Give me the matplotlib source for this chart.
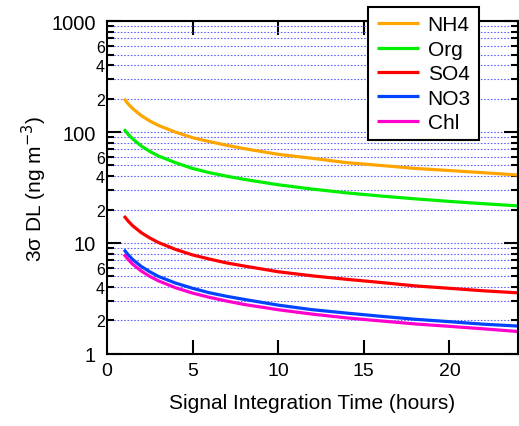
import math
import matplotlib
matplotlib.use("Agg")
import matplotlib.pyplot as plt
from matplotlib.ticker import FixedLocator, FuncFormatter

plt.rcParams['font.family'] = ['Liberation Sans', 'DejaVu Sans']

# values (ng m-3 vs hours)
hours = [1, 1.25, 1.5, 2, 2.5, 3, 4, 5, 6, 7, 8, 10, 12, 14, 16, 18, 20, 22, 24]
nh4 = [200, 179, 163, 141, 126, 115, 100, 89, 82, 76, 71, 63, 58, 53, 50, 47, 45, 43, 41]
org = [106, 95, 87, 75, 67, 61, 53, 47, 43, 40, 37.5, 33.5, 30.6, 28.3, 26.5, 25, 23.7, 22.6, 21.6]
so4 = [17.5, 15.7, 14.3, 12.4, 11.1, 10.1, 8.75, 7.8, 7.15, 6.6, 6.2, 5.5, 5.05, 4.7, 4.4, 4.1, 3.9, 3.7, 3.55]
no3 = [8.7, 7.8, 7.1, 6.15, 5.5, 5.0, 4.35, 3.9, 3.55, 3.3, 3.1, 2.75, 2.5, 2.33, 2.18, 2.05, 1.95, 1.85, 1.78]
chl = [7.9, 7.07, 6.45, 5.59, 5.0, 4.56, 3.95, 3.53, 3.23, 2.99, 2.79, 2.5, 2.28, 2.11, 1.98, 1.86, 1.77, 1.68, 1.59]

names = ['NH4', 'Org', 'SO4', 'NO3', 'Chl']
colors = ['#ffa500', '#00ee00', '#ff0000', '#0044ff', '#ff00cc']

fig = plt.figure(figsize=(5.19, 4.27), dpi=100)
ax = fig.add_axes([0.206, 0.169, 0.792, 0.779])

for ys, nm, c in zip([nh4, org, so4, no3, chl], names, colors):
    ax.plot(hours, ys, color=c, lw=2.3, label=nm, solid_capstyle='butt')

ax.set_yscale('log')
ax.set_ylim(1, 1000)
ax.set_xlim(0, 24)

major = [1, 10, 100, 1000]
minor = [m * d for d in [1, 10, 100] for m in range(2, 10)]
ax.yaxis.set_major_locator(FixedLocator(major))
ax.yaxis.set_minor_locator(FixedLocator(minor))
ax.yaxis.set_major_formatter(FuncFormatter(lambda v, p: '%d' % v))

def minor_fmt(v, p):
    m = round(v / 10 ** math.floor(math.log10(v) + 1e-9))
    return str(m) if m in (2, 4, 6) else ''

ax.yaxis.set_minor_formatter(FuncFormatter(minor_fmt))
ax.set_xticks([0, 5, 10, 15, 20])

ax.grid(True, which='both', axis='y', color='#6666ff', linestyle=(0, (1.5, 1.5)), lw=0.8)
ax.set_axisbelow(True)

for s in ax.spines.values():
    s.set_linewidth(1.5)

ax.tick_params(axis='y', which='major', direction='in', length=10, width=1.5,
               labelsize=14.5, pad=8, right=True)
ax.tick_params(axis='y', which='minor', direction='in', length=5, width=1.5,
               labelsize=11.5, pad=1.5, right=True)
ax.tick_params(axis='x', which='major', direction='in', length=10, width=1.5,
               labelsize=14, pad=6, top=True)
ax.xaxis.get_major_ticks()[0].tick1line.set_visible(False)
ax.xaxis.get_major_ticks()[0].tick2line.set_visible(False)

ax.set_xlabel('Signal Integration Time (hours)', fontsize=15, labelpad=10)
ax.set_ylabel('3\u03c3 DL (ng m$^{-3}$)', fontsize=15, labelpad=2)

leg = ax.legend(loc='upper right', bbox_to_anchor=(0.923, 0.981), bbox_transform=fig.transFigure,
                fontsize=15, fancybox=False, framealpha=1, edgecolor='black',
                handlelength=2.05, handletextpad=0.4, labelspacing=0.26, borderaxespad=0,
                borderpad=0.4)
leg.get_frame().set_linewidth(1.5)

fig.savefig('out.png', dpi=100)
